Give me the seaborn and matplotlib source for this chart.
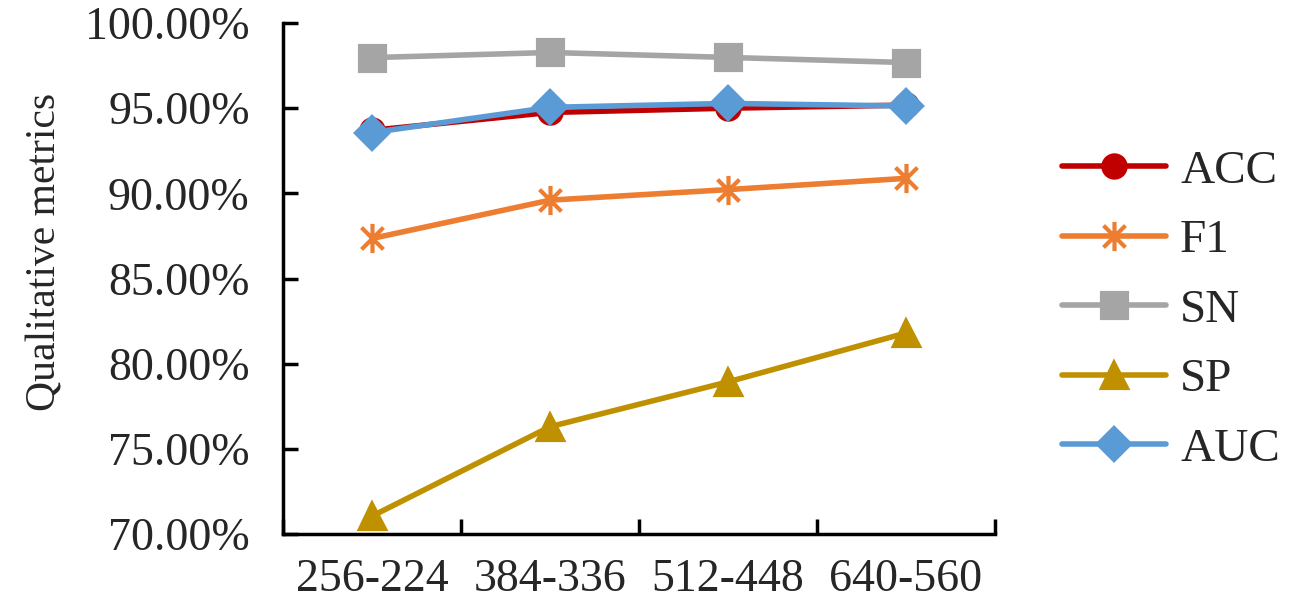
import pandas as pd
import seaborn as sns
import matplotlib.pyplot as plt
from matplotlib.path import Path
from matplotlib.ticker import FuncFormatter, FixedLocator

# data (percent)
categories = ["256-224", "384-336", "512-448", "640-560"]
acc = [93.70, 94.75, 95.00, 95.18]
f1 = [87.35, 89.60, 90.22, 90.88]
sn = [97.97, 98.27, 97.98, 97.68]
sp = [71.05, 76.30, 78.93, 81.80]
auc = [93.57, 95.05, 95.28, 95.13]

metric_names = ["ACC", "F1", "SN", "SP", "AUC"]
metric_values = [acc, f1, sn, sp, auc]
colors = ["#C00000", "#ED7D31", "#A5A5A5", "#BF9000", "#5B9BD5"]

# excel style asterisk: vertical bar + X
star = Path([(0, -1), (0, 1), (-0.75, -0.75), (0.75, 0.75), (-0.75, 0.75), (0.75, -0.75)],
            [Path.MOVETO, Path.LINETO, Path.MOVETO, Path.LINETO, Path.MOVETO, Path.LINETO])
markers = ["o", star, "s", "^", "D"]
sizes = [16, 21, 18, 18, 16]

rows = []
for name, vals in zip(metric_names, metric_values):
    for cat, v in zip(categories, vals):
        rows.append({"metric": name, "size": cat, "value": v})
df = pd.DataFrame(rows)

sns.set_style("ticks")
plt.rcParams["font.family"] = ["Liberation Serif", "DejaVu Serif"]

fig = plt.figure(figsize=(12.99, 6.14), dpi=100)
ax = fig.add_axes([0.2179, 0.1303, 0.548, 0.8322])

for name, col, mk, ms in zip(metric_names, colors, markers, sizes):
    sub = df[df["metric"] == name]
    sns.lineplot(data=sub, x="size", y="value", ax=ax, color=col, marker=mk,
                 markersize=ms, markeredgecolor=col, markeredgewidth=3,
                 linewidth=4, label=name, sort=False)

# axes look like excel
ax.set_xlim(-0.5, 3.5)
ax.set_ylim(70, 100)
ax.set_yticks([70, 75, 80, 85, 90, 95, 100])
ax.yaxis.set_major_formatter(FuncFormatter(lambda v, p: f"{v:.2f}%"))
ax.xaxis.set_minor_locator(FixedLocator([-0.5, 0.5, 1.5, 2.5, 3.5]))
ax.tick_params(axis="x", which="major", length=0, pad=18, labelsize=33)
ax.tick_params(axis="x", which="minor", direction="in", length=11, width=2.5, color="black")
ax.tick_params(axis="y", direction="in", length=11, width=2.5, pad=24, labelsize=33, color="black")
for side in ["top", "right"]:
    ax.spines[side].set_visible(False)
for side in ["left", "bottom"]:
    ax.spines[side].set_linewidth(2.5)
    ax.spines[side].set_color("black")

ax.set_xlabel("")
ax.set_ylabel("Qualitative metrics", fontsize=30)
ax.yaxis.set_label_coords(-0.307, 0.552)

handles, labels = ax.get_legend_handles_labels()
ax.legend_.remove()
fig.legend(handles, labels, loc="center left", bbox_to_anchor=(0.8176, 0.495),
           frameon=False, fontsize=34, handlelength=2.2, handletextpad=0.3,
           labelspacing=0.56, borderpad=0, borderaxespad=0)

plt.savefig("out.png", dpi=100)
